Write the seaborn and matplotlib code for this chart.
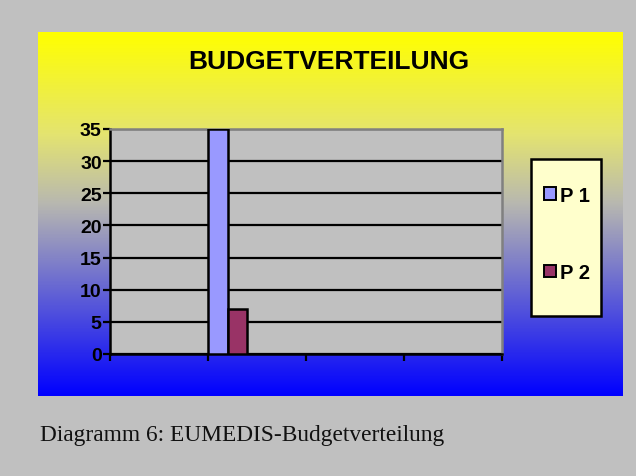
import pandas as pd
import numpy as np
import matplotlib.pyplot as plt
import seaborn as sns
from matplotlib.colors import LinearSegmentedColormap
from matplotlib.patches import Rectangle, Patch

# Daten
kategorien = ["K1", "K2", "K3", "K4"]
serien = ["P 1", "P 2", "P 3", "P 4", "P 5"]   # nur P 1 und P 2 haben Werte
werte_kategorie = ["K2", "K2"]
werte_serie = ["P 1", "P 2"]
werte = [35, 7]
farben = ["#9999ff", "#993366", "#ffffcc", "#00ffff", "#660066"]

df = pd.DataFrame({"kategorie": werte_kategorie, "serie": werte_serie, "wert": werte})

sns.set_style("white")
plt.rcParams["font.family"] = ["Liberation Sans", "DejaVu Sans"]
plt.rcParams["text.color"] = "black"
plt.rcParams["ytick.color"] = "black"
plt.rcParams["xtick.color"] = "black"

fig = plt.figure(figsize=(6.36, 4.77), dpi=100)
fig.patch.set_facecolor("#c0c0c0")

# Hintergrund mit Farbverlauf
bg = fig.add_axes([38 / 636, 1 - 397 / 477, 585 / 636, 364 / 477])
cmap = LinearSegmentedColormap.from_list(
    "verlauf", [(0.0, "#0000ff"), (0.53, "#b8b8b0"), (0.72, "#e4e470"), (1.0, "#ffff00")])
grad = np.linspace(0, 1, 256).reshape(-1, 1)
bg.imshow(grad, aspect="auto", cmap=cmap, origin="lower", extent=[0, 1, 0, 1])
bg.set_axis_off()

ax = fig.add_axes([110 / 636, 1 - 355 / 477, 392 / 636, 225 / 477])
ax.set_facecolor("#c0c0c0")
sns.barplot(data=df, x="kategorie", y="wert", hue="serie", order=kategorien,
            hue_order=serien, palette=farben, saturation=1, width=1.0,
            edgecolor="black", linewidth=1.8, legend=False, ax=ax, zorder=3)

ax.set_xlim(-0.5, 3.5)
ax.set_ylim(0, 35)
ax.set_yticks(range(0, 36, 5))
ax.set_xticks(np.arange(-0.5, 4, 1))
ax.set_xticklabels([])
ax.set_xlabel("")
ax.set_ylabel("")
ax.yaxis.grid(True, color="black", linewidth=1.6)
ax.xaxis.grid(False)
ax.set_axisbelow(True)
ax.tick_params(axis="both", direction="out", length=5, width=1.6, color="black",
               labelcolor="black", left=True, bottom=True, pad=1)
for lab in ax.get_yticklabels():
    lab.set_fontweight("bold")
    lab.set_fontsize(14)
for s in ["left", "bottom"]:
    ax.spines[s].set_color("black")
    ax.spines[s].set_linewidth(1.8)
for s in ["top", "right"]:
    ax.spines[s].set_color("#808080")
    ax.spines[s].set_linewidth(1.8)

# Titel
fig.text(329 / 636, 1 - 62 / 477, "BUDGETVERTEILUNG", ha="center", va="center",
         fontsize=19, fontweight="bold", color="black")

# Legende
box = Rectangle((531 / 636, 1 - 317 / 477), 70 / 636, 157 / 477, transform=fig.transFigure,
                facecolor="#ffffcc", edgecolor="black", linewidth=1.8, zorder=5)
fig.patches.append(box)
handles = [Patch(facecolor=farben[i], edgecolor="black", linewidth=1.4) for i in range(2)]
leg = fig.legend(handles, serien[:2], loc="center", bbox_to_anchor=(567 / 636, 1 - 235 / 477),
                 frameon=False, labelspacing=2.9, handlelength=0.6, handleheight=0.6,
                 handletextpad=0.2, prop={"weight": "bold", "size": 14.5})
leg.set_zorder(8)
for t in leg.get_texts():
    t.set_color("black")

# Bildunterschrift
fig.text(40 / 636, 1 - 436 / 477, "Diagramm 6: EUMEDIS-Budgetverteilung", ha="left",
         va="center", fontsize=16.8, color="#111111",
         family=["Liberation Serif", "DejaVu Serif"])

fig.savefig("out.png", dpi=100, facecolor=fig.get_facecolor())
